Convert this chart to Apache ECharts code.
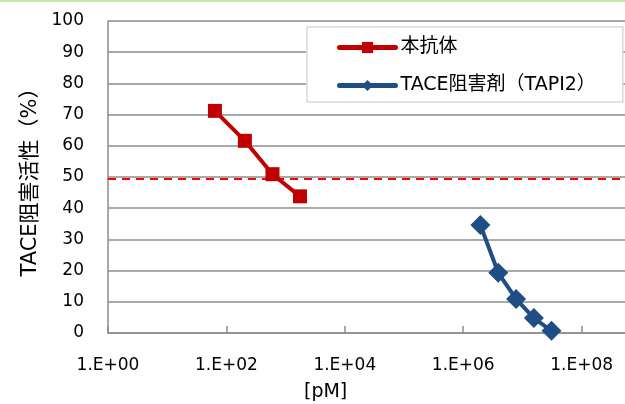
<!DOCTYPE html>
<html>
<head>
<meta charset="utf-8">
<script src="https://cdn.jsdelivr.net/npm/echarts@6/dist/echarts.min.js"></script>
<style>
html,body{margin:0;padding:0;background:#fff;}
#chart{width:625px;height:404px;}
</style>
</head>
<body>
<div id="chart"></div>
<script>
// Data (concentration in pM, inhibition %)
var antibodyConc = [64, 205, 600, 1750];
var antibodyInhib = [71.2, 61.6, 50.9, 43.8];
var tapiConc = [1.95e6, 3.9e6, 7.8e6, 1.56e7, 3.1e7];
var tapiInhib = [34.6, 19.3, 10.9, 4.8, 0.7];
var seriesNames = ['本抗体', 'TACE阻害剤（TAPI2）'];
var yAxisTitle = 'TACE阻害活性（%）';
var xAxisTitle = '[pM]';
var halfLine = 49.5;
var xMin = 1, xMax = 5.4e8;

var FONT = "'DejaVu Sans','Noto Sans CJK JP',sans-serif";

function pairs(xs, ys) { return xs.map(function (x, i) { return [x, ys[i]]; }); }

var chart = echarts.init(document.getElementById('chart'));
chart.setOption({
  animation: false,
  backgroundColor: '#fff',
  textStyle: { fontFamily: FONT },
  graphic: [
    { type: 'rect', left: 0, top: 0, shape: { width: 625, height: 2 }, style: { fill: '#c8e4aa' } },
    { type: 'text', left: 304, top: 383, style: { text: xAxisTitle, font: '19px ' + FONT, fill: '#000' } }
  ],
  grid: { left: 108, top: 21, bottom: 71, right: 0 },
  legend: {
    orient: 'vertical',
    left: 307, top: 27,
    padding: [11, 27, 7, 30],
    itemGap: 19,
    itemWidth: 56, itemHeight: 14,
    backgroundColor: '#fff',
    borderColor: '#d9d9d9', borderWidth: 1.5,
    borderRadius: 0,
    lineStyle: { width: 5, cap: 'round' },
    textStyle: { fontSize: 19, color: '#000', fontFamily: FONT },
    data: seriesNames
  },
  xAxis: {
    type: 'log',
    logBase: 100,
    min: xMin, max: xMax,
    axisLine: { show: true, lineStyle: { color: '#8c8c8c', width: 1.5 } },
    axisTick: { show: true, inside: true, length: 7, lineStyle: { color: '#8c8c8c', width: 1.5 } },
    splitLine: { show: false },
    minorTick: { show: false },
    axisLabel: {
      showMaxLabel: false,
      margin: 24,
      fontSize: 17, color: '#000', fontFamily: FONT,
      formatter: function (v) {
        var e = Math.round(Math.log10(v));
        if (Math.abs(Math.log10(v) - e) > 1e-6) return '';
        return '1.E+' + (e < 10 ? '0' + e : e);
      }
    }
  },
  yAxis: {
    type: 'value',
    min: 0, max: 100, interval: 10,
    name: yAxisTitle,
    nameLocation: 'middle',
    nameGap: 67,
    nameTextStyle: { fontSize: 21, color: '#000', fontFamily: FONT },
    axisLine: { show: true, lineStyle: { color: '#8c8c8c', width: 1.5 } },
    axisTick: { show: false },
    splitLine: { show: true, lineStyle: { color: '#8c8c8c', width: 1.5 } },
    axisLabel: { margin: 24, fontSize: 17, color: '#000', fontFamily: FONT }
  },
  series: [
    {
      name: seriesNames[0],
      type: 'line',
      data: pairs(antibodyConc, antibodyInhib),
      symbol: 'rect', symbolSize: 14,
      lineStyle: { color: '#c00000', width: 4 },
      itemStyle: { color: '#c00000' },
      z: 5,
      markLine: {
        silent: true,
        symbol: 'none',
        label: { show: false },
        lineStyle: { color: '#ff0000', type: [8, 6], width: 2 },
        data: [{ yAxis: halfLine }]
      }
    },
    {
      name: seriesNames[1],
      type: 'line',
      data: pairs(tapiConc, tapiInhib),
      symbol: 'diamond', symbolSize: 20,
      lineStyle: { color: '#1f4e84', width: 4 },
      itemStyle: { color: '#1f4e84' },
      z: 5
    }
  ]
});
</script>
</body>
</html>
